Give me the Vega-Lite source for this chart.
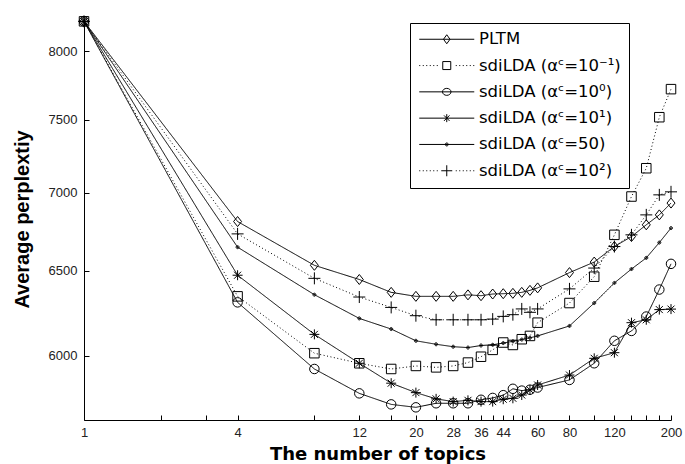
{
  "$schema": "https://vega.github.io/schema/vega-lite/v6.json",
  "width": 587,
  "height": 402,
  "autosize": {"type": "none"},
  "padding": {"left": 84, "top": 18, "right": 14, "bottom": 44},
  "background": "white",
  "config": {
    "view": {"stroke": null},
    "axis": {
      "grid": false,
      "domainColor": "black",
      "domainWidth": 1,
      "tickColor": "black",
      "tickWidth": 1,
      "tickSize": -5,
      "labelFont": "Liberation Sans",
      "labelFontSize": 13,
      "labelColor": "#222222",
      "titleColor": "black",
      "titleFontWeight": "bold"
    }
  },
  "data": {
    "values": [
      {"n": 1, "PLTM": 8230, "sdiLDA (αᶜ=10⁻¹)": 8230, "sdiLDA (αᶜ=10⁰)": 8230, "sdiLDA (αᶜ=10¹)": 8230, "sdiLDA (αᶜ=50)": 8230, "sdiLDA (αᶜ=10²)": 8230},
      {"n": 4, "PLTM": 6811, "sdiLDA (αᶜ=10⁻¹)": 6346, "sdiLDA (αᶜ=10⁰)": 6310, "sdiLDA (αᶜ=10¹)": 6474, "sdiLDA (αᶜ=50)": 6648, "sdiLDA (αᶜ=10²)": 6732},
      {"n": 8, "PLTM": 6535, "sdiLDA (αᶜ=10⁻¹)": 6014, "sdiLDA (αᶜ=10⁰)": 5925, "sdiLDA (αᶜ=10¹)": 6122, "sdiLDA (αᶜ=50)": 6356, "sdiLDA (αᶜ=10²)": 6455},
      {"n": 12, "PLTM": 6448, "sdiLDA (αᶜ=10⁻¹)": 5957, "sdiLDA (αᶜ=10⁰)": 5790, "sdiLDA (αᶜ=10¹)": 5957, "sdiLDA (αᶜ=50)": 6215, "sdiLDA (αᶜ=10²)": 6342},
      {"n": 16, "PLTM": 6370, "sdiLDA (αᶜ=10⁻¹)": 5925, "sdiLDA (αᶜ=10⁰)": 5730, "sdiLDA (αᶜ=10¹)": 5846, "sdiLDA (αᶜ=50)": 6153, "sdiLDA (αᶜ=10²)": 6280},
      {"n": 20, "PLTM": 6346, "sdiLDA (αᶜ=10⁻¹)": 5942, "sdiLDA (αᶜ=10⁰)": 5714, "sdiLDA (αᶜ=10¹)": 5794, "sdiLDA (αᶜ=50)": 6085, "sdiLDA (αᶜ=10²)": 6231},
      {"n": 24, "PLTM": 6346, "sdiLDA (αᶜ=10⁻¹)": 5934, "sdiLDA (αᶜ=10⁰)": 5736, "sdiLDA (αᶜ=10¹)": 5760, "sdiLDA (αᶜ=50)": 6065, "sdiLDA (αᶜ=10²)": 6207},
      {"n": 28, "PLTM": 6346, "sdiLDA (αᶜ=10⁻¹)": 5942, "sdiLDA (αᶜ=10⁰)": 5736, "sdiLDA (αᶜ=10¹)": 5745, "sdiLDA (αᶜ=50)": 6051, "sdiLDA (αᶜ=10²)": 6207},
      {"n": 32, "PLTM": 6355, "sdiLDA (αᶜ=10⁻¹)": 5961, "sdiLDA (αᶜ=10⁰)": 5736, "sdiLDA (αᶜ=10¹)": 5752, "sdiLDA (αᶜ=50)": 6046, "sdiLDA (αᶜ=10²)": 6207},
      {"n": 36, "PLTM": 6350, "sdiLDA (αᶜ=10⁻¹)": 5994, "sdiLDA (αᶜ=10⁰)": 5755, "sdiLDA (αᶜ=10¹)": 5745, "sdiLDA (αᶜ=50)": 6058, "sdiLDA (αᶜ=10²)": 6207},
      {"n": 40, "PLTM": 6360, "sdiLDA (αᶜ=10⁻¹)": 6033, "sdiLDA (αᶜ=10⁰)": 5765, "sdiLDA (αᶜ=10¹)": 5745, "sdiLDA (αᶜ=50)": 6062, "sdiLDA (αᶜ=10²)": 6211},
      {"n": 44, "PLTM": 6362, "sdiLDA (αᶜ=10⁻¹)": 6075, "sdiLDA (αᶜ=10⁰)": 5780, "sdiLDA (αᶜ=10¹)": 5758, "sdiLDA (αᶜ=50)": 6072, "sdiLDA (αᶜ=10²)": 6227},
      {"n": 48, "PLTM": 6364, "sdiLDA (αᶜ=10⁻¹)": 6061, "sdiLDA (αᶜ=10⁰)": 5815, "sdiLDA (αᶜ=10¹)": 5763, "sdiLDA (αᶜ=50)": 6082, "sdiLDA (αᶜ=10²)": 6237},
      {"n": 52, "PLTM": 6370, "sdiLDA (αᶜ=10⁻¹)": 6094, "sdiLDA (αᶜ=10⁰)": 5805, "sdiLDA (αᶜ=10¹)": 5781, "sdiLDA (αᶜ=50)": 6092, "sdiLDA (αᶜ=10²)": 6271},
      {"n": 56, "PLTM": 6382, "sdiLDA (αᶜ=10⁻¹)": 6113, "sdiLDA (αᶜ=10⁰)": 5810, "sdiLDA (αᶜ=10¹)": 5809, "sdiLDA (αᶜ=50)": 6102, "sdiLDA (αᶜ=10²)": 6251},
      {"n": 60, "PLTM": 6397, "sdiLDA (αᶜ=10⁻¹)": 6190, "sdiLDA (αᶜ=10⁰)": 5822, "sdiLDA (αᶜ=10¹)": 5836, "sdiLDA (αᶜ=50)": 6113, "sdiLDA (αᶜ=10²)": 6271},
      {"n": 80, "PLTM": 6490, "sdiLDA (αᶜ=10⁻¹)": 6306, "sdiLDA (αᶜ=10⁰)": 5864, "sdiLDA (αᶜ=10¹)": 5891, "sdiLDA (αᶜ=50)": 6171, "sdiLDA (αᶜ=10²)": 6391},
      {"n": 100, "PLTM": 6555, "sdiLDA (αᶜ=10⁻¹)": 6465, "sdiLDA (αᶜ=10⁰)": 5957, "sdiLDA (αᶜ=10¹)": 5985, "sdiLDA (αᶜ=50)": 6306, "sdiLDA (αᶜ=10²)": 6518},
      {"n": 120, "PLTM": 6652, "sdiLDA (αᶜ=10⁻¹)": 6726, "sdiLDA (αᶜ=10⁰)": 6085, "sdiLDA (αᶜ=10¹)": 6017, "sdiLDA (αᶜ=50)": 6427, "sdiLDA (αᶜ=10²)": 6652},
      {"n": 140, "PLTM": 6715, "sdiLDA (αᶜ=10⁻¹)": 6974, "sdiLDA (αᶜ=10⁰)": 6142, "sdiLDA (αᶜ=10¹)": 6190, "sdiLDA (αᶜ=50)": 6512, "sdiLDA (αᶜ=10²)": 6726},
      {"n": 160, "PLTM": 6790, "sdiLDA (αᶜ=10⁻¹)": 7163, "sdiLDA (αᶜ=10⁰)": 6226, "sdiLDA (αᶜ=10¹)": 6207, "sdiLDA (αᶜ=50)": 6581, "sdiLDA (αᶜ=10²)": 6854},
      {"n": 180, "PLTM": 6854, "sdiLDA (αᶜ=10⁻¹)": 7517, "sdiLDA (αᶜ=10⁰)": 6387, "sdiLDA (αᶜ=10¹)": 6267, "sdiLDA (αᶜ=50)": 6677, "sdiLDA (αᶜ=10²)": 6985},
      {"n": 200, "PLTM": 6931, "sdiLDA (αᶜ=10⁻¹)": 7719, "sdiLDA (αᶜ=10⁰)": 6544, "sdiLDA (αᶜ=10¹)": 6270, "sdiLDA (αᶜ=50)": 6769, "sdiLDA (αᶜ=10²)": 7005}
    ]
  },
  "transform": [
    {"fold": ["PLTM", "sdiLDA (αᶜ=10⁻¹)", "sdiLDA (αᶜ=10⁰)", "sdiLDA (αᶜ=10¹)", "sdiLDA (αᶜ=50)", "sdiLDA (αᶜ=10²)"], "as": ["series", "perplexity"]}
  ],
  "encoding": {
    "x": {
      "field": "n",
      "type": "quantitative",
      "scale": {"type": "log", "domain": [1, 200], "nice": false},
      "title": "The number of topics",
      "axis": {
        "values": [1, 2, 3, 4, 8, 12, 16, 20, 24, 28, 32, 36, 40, 44, 48, 52, 56, 60, 80, 100, 120, 140, 160, 180, 200],
        "format": "d",
        "labelExpr": "indexof([1, 4, 12, 20, 28, 36, 44, 60, 80, 120, 200], datum.value) >= 0 ? datum.label : ''",
        "labelOverlap": false,
        "labelFlush": false,
        "labelPadding": 11,
        "titleFont": "DejaVu Sans",
        "titleFontSize": 18,
        "titlePadding": 6
      }
    },
    "y": {
      "field": "perplexity",
      "type": "quantitative",
      "scale": {"type": "log", "domain": [5646, 8256], "nice": false, "zero": false},
      "title": "Average perplextiy",
      "axis": {
        "values": [6000, 6500, 7000, 7500, 8000],
        "format": "d",
        "labelPadding": 12,
        "titleFont": "Liberation Sans",
        "titleFontSize": 20,
        "titlePadding": 16
      }
    }
  },
  "layer": [
    {
      "mark": {"type": "line", "color": "black", "strokeWidth": 1},
      "encoding": {
        "strokeDash": {
          "field": "series",
          "type": "nominal",
          "scale": {
            "domain": ["sdiLDA (αᶜ=10²)", "sdiLDA (αᶜ=50)", "sdiLDA (αᶜ=10¹)", "sdiLDA (αᶜ=10⁰)", "sdiLDA (αᶜ=10⁻¹)", "PLTM"],
            "range": [[1, 2.5], [1, 0], [1, 0], [1, 0], [1, 2.5], [1, 0]]
          },
          "legend": null
        }
      }
    },
    {
      "mark": {"type": "point", "filled": false, "strokeWidth": 1, "size": 100, "opacity": 1},
      "encoding": {
        "shape": {
          "field": "series",
          "type": "nominal",
          "scale": {
            "domain": ["sdiLDA (αᶜ=10⁻¹)", "sdiLDA (αᶜ=10⁰)", "sdiLDA (αᶜ=10¹)", "sdiLDA (αᶜ=50)", "sdiLDA (αᶜ=10²)", "PLTM"],
            "range": [
              "M-0.95,-0.95H0.95V0.95H-0.95Z",
              "M-0.95,0A0.95,0.95,0,1,0,0.95,0A0.95,0.95,0,1,0,-0.95,0Z",
              "M-1,0H1M0,-1V1M-0.7,-0.7L0.7,0.7M-0.7,0.7L0.7,-0.7",
              "M-0.3,0A0.3,0.3,0,1,0,0.3,0A0.3,0.3,0,1,0,-0.3,0ZM-0.1,0A0.1,0.1,0,1,0,0.1,0A0.1,0.1,0,1,0,-0.1,0Z",
              "M-1.2,0H1.2M0,-1.2V1.2",
              "M0,-1L0.8,0L0,1L-0.8,0Z"
            ]
          },
          "legend": null
        },
        "color": {
          "field": "series",
          "type": "nominal",
          "scale": {
            "domain": ["PLTM", "sdiLDA (αᶜ=10⁻¹)", "sdiLDA (αᶜ=10⁰)", "sdiLDA (αᶜ=10¹)", "sdiLDA (αᶜ=50)", "sdiLDA (αᶜ=10²)"],
            "range": ["black", "black", "black", "black", "black", "black"]
          },
          "legend": {
            "title": null,
            "orient": "none",
            "legendX": 326,
            "legendY": 5,
            "padding": 8,
            "strokeColor": "black",
            "fillColor": "white",
            "labelFont": "DejaVu Sans",
            "labelFontSize": 16.5,
            "labelColor": "black",
            "labelLimit": 400,
            "symbolSize": 100,
            "symbolOffset": 20.5,
            "labelOffset": 24,
            "rowPadding": 9.3,
            "symbolStrokeWidth": 1,
            "symbolFillColor": "transparent",
            "symbolType": {"expr": "['M-5.5,0H5.5M0,-0.9L0.65,0L0,0.9L-0.65,0Z', 'M-5.5,0h0.2M-4.8,0h0.2M-4.1,0h0.2M-3.4,0h0.2M-2.7,0h0.2M-2,0h0.2M1.8,0h0.2M2.5,0h0.2M3.2,0h0.2M3.9,0h0.2M4.6,0h0.2M5.3,0h0.2M-0.8,-0.8H0.8V0.8H-0.8Z', 'M-5.5,0H5.5M-0.85,0A0.85,0.7,0,1,0,0.85,0A0.85,0.7,0,1,0,-0.85,0Z', 'M-5.5,0H5.5M0,-0.8V0.8M-0.55,-0.55L0.55,0.55M-0.55,0.55L0.55,-0.55', 'M-5.5,0H5.5M-0.3,0A0.3,0.3,0,1,0,0.3,0A0.3,0.3,0,1,0,-0.3,0ZM-0.1,0A0.1,0.1,0,1,0,0.1,0A0.1,0.1,0,1,0,-0.1,0Z', 'M-5.5,0h0.2M-4.8,0h0.2M-4.1,0h0.2M-3.4,0h0.2M-2.7,0h0.2M-2,0h0.2M1.8,0h0.2M2.5,0h0.2M3.2,0h0.2M3.9,0h0.2M4.6,0h0.2M5.3,0h0.2M-1.1,0H1.1M0,-1.1V1.1'][indexof(['PLTM', 'sdiLDA (αᶜ=10⁻¹)', 'sdiLDA (αᶜ=10⁰)', 'sdiLDA (αᶜ=10¹)', 'sdiLDA (αᶜ=50)', 'sdiLDA (αᶜ=10²)'], datum.value)]"}
          }
        }
      }
    }
  ]
}
